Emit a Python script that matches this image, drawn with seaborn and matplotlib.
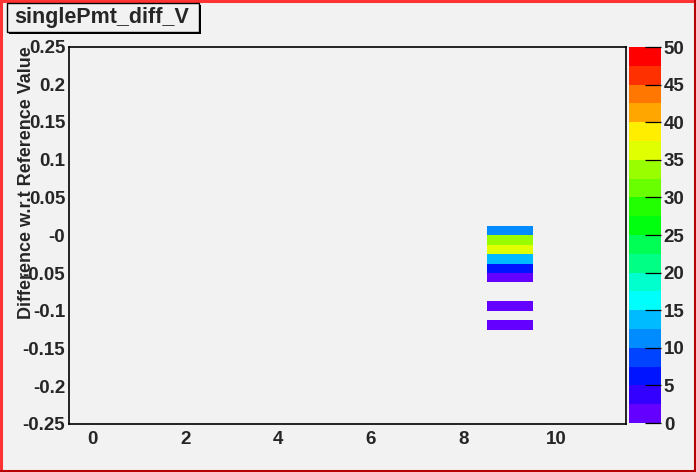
import colorsys
import numpy as np
import pandas as pd
import matplotlib
matplotlib.use("Agg")
import matplotlib.pyplot as plt
from matplotlib.colors import ListedColormap
from matplotlib.patches import Rectangle
from matplotlib.lines import Line2D
from matplotlib.ticker import MultipleLocator, FixedLocator, FixedFormatter, NullLocator
import seaborn as sns

# ---------------- data ----------------
title = "singlePmt_diff_V"
y_label = "Difference w.r.t Reference Value"
cell_x = [9, 9, 9, 9, 9, 9, 9, 9]
cell_y = [0.00625, -0.00625, -0.01875, -0.03125, -0.04375, -0.05625, -0.09375, -0.11875]
cell_counts = [11, 33, 36, 13, 6, 1, 1, 1]
x_range = [-0.5, 11.5]
x_nbins = 12
y_range = [-0.25, 0.25]
y_nbins = 40
x_ticks = [0, 2, 4, 6, 8, 10]
y_ticks = [-0.25, -0.2, -0.15, -0.1, -0.05, 0.0, 0.05, 0.1, 0.15, 0.2, 0.25]
y_tick_labels = ["-0.25", "-0.2", "-0.15", "-0.1", "-0.05", "-0", "0.05", "0.1", "0.15", "0.2", "0.25"]
z_range = [0, 50]
z_ticks = [0, 5, 10, 15, 20, 25, 30, 35, 40, 45, 50]

# ---------------- style ----------------
BG = "#f2f2f2"
sns.set_style("white")
plt.rcParams["font.family"] = ["Liberation Sans", "DejaVu Sans"]
plt.rcParams["font.weight"] = "bold"
TICK_FS = 13.5

# ROOT "pretty" palette (50 hues, violet -> red), sampled for 20 contours
n_pal, n_cont = 50, 20
pal_colors = []
for k in range(n_cont):
    idx = int((k + 0.99) * n_pal / n_cont)
    hue = 280.0 - (idx + 1) * (280.0 / n_pal)
    pal_colors.append(colorsys.hls_to_rgb(hue / 360.0, 0.5, 1.0))
cmap = ListedColormap(pal_colors)

W, H = 696, 472
fig = plt.figure(figsize=(W / 100, H / 100), dpi=100, facecolor=BG)

def fx(px):
    return px / W

def fy(py):
    return 1 - py / H

ax = fig.add_axes([fx(69.3), fy(424), fx(625.7) - fx(69.3), fy(46.5) - fy(424)])
cax = fig.add_axes([fx(629), fy(423), fx(661) - fx(629), fy(47) - fy(423)])
ax.set_facecolor(BG)

df = pd.DataFrame({"x": cell_x, "y": cell_y, "w": cell_counts})
x_edges = np.linspace(x_range[0], x_range[1], x_nbins + 1)
y_edges = np.linspace(y_range[0], y_range[1], y_nbins + 1)

sns.histplot(data=df, x="x", y="y", weights="w", bins=(x_edges, y_edges),
             cmap=cmap, vmin=z_range[0], vmax=z_range[1], cbar=True, cbar_ax=cax,
             ax=ax)

ax.set_xlim(*x_range)
ax.set_ylim(*y_range)
ax.set_xlabel("")
ax.set_ylabel(y_label, fontsize=13, fontweight="bold", loc="top")
ax.yaxis.set_label_coords(-0.062, 1.0)

ax.xaxis.set_major_locator(FixedLocator(x_ticks))
ax.xaxis.set_minor_locator(MultipleLocator(0.5))
ax.yaxis.set_major_locator(FixedLocator(y_ticks))
ax.yaxis.set_major_formatter(FixedFormatter(y_tick_labels))
ax.yaxis.set_minor_locator(MultipleLocator(0.01))

ax.tick_params(axis="both", which="both", direction="in", color="black",
               width=0.8, labelsize=TICK_FS)
ax.tick_params(axis="y", which="major", length=12.2, pad=3)
ax.tick_params(axis="y", which="minor", length=5.8)
ax.tick_params(axis="x", which="major", length=8, pad=5)
ax.tick_params(axis="x", which="minor", length=4.3)
for lab in ax.get_xticklabels() + ax.get_yticklabels():
    lab.set_fontweight("bold")
for sp in ax.spines.values():
    sp.set_visible(True)
    sp.set_color("black")
    sp.set_linewidth(1.2)

# colour bar axis
cax.set_axisbelow(False)
cax.yaxis.set_zorder(10)
cax.yaxis.set_major_locator(FixedLocator(z_ticks))
cax.yaxis.set_minor_locator(NullLocator())
cax.tick_params(axis="y", which="major", direction="in", length=11.5, width=0.9,
                labelsize=TICK_FS, pad=2, right=True, left=False, labelright=True,
                labelleft=False, color="black")
for lab in cax.get_yticklabels():
    lab.set_fontweight("bold")
for sp in cax.spines.values():
    sp.set_visible(False)
try:
    cax.collections[0].colorbar.outline.set_visible(False)
except Exception:
    pass

# title box with shadow
fig.patches.append(Rectangle((fx(9), fy(34)), fx(192), fy(0) - fy(29), transform=fig.transFigure,
                             facecolor="black", edgecolor="black", lw=0, zorder=5))
fig.patches.append(Rectangle((fx(7), fy(32)), fx(192), fy(0) - fy(29), transform=fig.transFigure,
                             facecolor=BG, edgecolor="black", lw=1.0, zorder=6))
fig.text(fx(101.5), fy(17.5), title, ha="center", va="center", fontsize=15.5,
         fontweight="bold", zorder=7)

# canvas border (ROOT highlighted pad)
light, dark = "#ff3333", "#b40000"
fig.lines.append(Line2D([fx(1), fx(1)], [fy(0), fy(472)], transform=fig.transFigure, color=light, lw=2.2))
fig.lines.append(Line2D([fx(0), fx(696)], [fy(1), fy(1)], transform=fig.transFigure, color=light, lw=2.2))
fig.lines.append(Line2D([fx(695), fx(695)], [fy(0), fy(472)], transform=fig.transFigure, color=dark, lw=2.2))
fig.lines.append(Line2D([fx(0), fx(696)], [fy(471), fy(471)], transform=fig.transFigure, color=dark, lw=2.2))

fig.savefig("out.png", dpi=100, facecolor=BG)
